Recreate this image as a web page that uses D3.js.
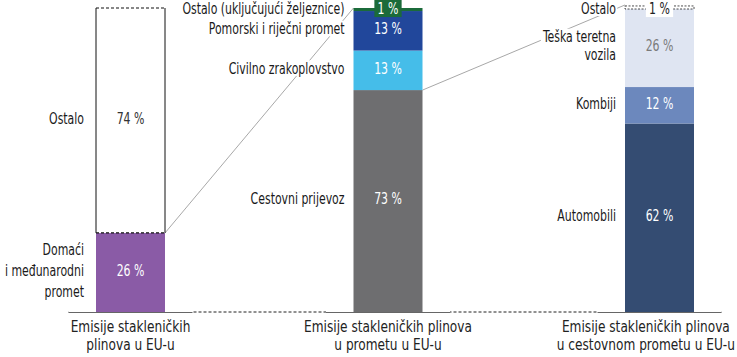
<!DOCTYPE html>
<html><head><meta charset="utf-8">
<script src="https://cdn.jsdelivr.net/npm/d3@7"></script>
<style>
body{margin:0;background:#fff}
svg text{font-family:"DejaVu Sans Condensed","DejaVu Sans",sans-serif;}
</style>
</head><body><svg id="c" width="737" height="357"></svg>
<script>
// ---- data ----
const categories = ["Emisije stakleničkih|plinova u EU-u", "Emisije stakleničkih plinova|u prometu u EU-u", "Emisije stakleničkih plinova|u cestovnom prometu u EU-u"];
const bar1Labels = ["Domaći|i međunarodni|promet", "Ostalo"];
const bar1Values = [26, 74];
const bar2Labels = ["Cestovni prijevoz", "Civilno zrakoplovstvo", "Pomorski i riječni promet", "Ostalo (uključujući željeznice)"];
const bar2Values = [73, 13, 13, 1];
const bar3Labels = ["Automobili", "Kombiji", "Teška teretna|vozila", "Ostalo"];
const bar3Values = [62, 12, 26, 1];
const yTicks = [0, 100];

// ---- styles ----
const bar1Colors = ["#8a5ba6", "#ffffff"];
const bar2Colors = ["#6e6e70", "#45bde9", "#21479b", "#1b6b3a"];
const bar3Colors = ["#344c72", "#6c88bd", "#dfe5f2", "#ffffff"];
const bar1TextColors = ["#ffffff", "#333333"];
const bar2TextColors = ["#ffffff", "#ffffff", "#ffffff", "#ffffff"];
const bar3TextColors = ["#ffffff", "#ffffff", "#7a7a7a", "#222222"];

const svg = d3.select("#c");
const x = d3.scaleOrdinal().domain(categories).range([130.5, 388, 659.5]);
const y = d3.scaleLinear().domain(yTicks).range([312, 8]);
const bw = 69;
const FS = 15;
const SX = 0.81;

const bars = [
  {cat: categories[0], labels: bar1Labels, values: bar1Values, colors: bar1Colors, tcol: bar1TextColors},
  {cat: categories[1], labels: bar2Labels, values: bar2Values, colors: bar2Colors, tcol: bar2TextColors},
  {cat: categories[2], labels: bar3Labels, values: bar3Values, colors: bar3Colors, tcol: bar3TextColors}
];
bars.forEach(b => {
  let acc = 0;
  b.segs = b.values.map((v, i) => {
    const s = {v, y0: acc, y1: acc + v, label: b.labels[i], color: b.colors[i], tcol: b.tcol[i], i};
    acc += v; return s;
  });
});

const gLines = svg.append("g");
const gBars = svg.append("g");
const gLabels = svg.append("g");

// axis baseline: dashed overall, solid under bars
gLines.append("line").attr("x1", x(categories[0]) - 62).attr("x2", x(categories[2]) + 62)
  .attr("y1", y(0)).attr("y2", y(0)).attr("stroke", "#222").attr("stroke-width", 1).attr("stroke-dasharray", "3,2");
categories.forEach(c => {
  gLines.append("line").attr("x1", x(c) - 62).attr("x2", x(c) + 62).attr("y1", y(0)).attr("y2", y(0))
    .attr("stroke", "#fff").attr("stroke-width", 2);
  gLines.append("line").attr("x1", x(c) - 62).attr("x2", x(c) + 62).attr("y1", y(0) + 0.5).attr("y2", y(0) + 0.5)
    .attr("stroke", "#666").attr("stroke-width", 1);
});

// connector lines
const b1 = bars[0], b2 = bars[1], b3 = bars[2];
gLines.append("line")
  .attr("x1", x(b1.cat) + bw / 2).attr("y1", y(b1.segs[0].y1))
  .attr("x2", x(b2.cat) - bw / 2).attr("y2", y(d3.sum(b2.values)))
  .attr("stroke", "#a8a8a8").attr("stroke-width", 1);
gLines.append("line")
  .attr("x1", x(b2.cat) + bw / 2).attr("y1", y(b2.segs[0].y1))
  .attr("x2", x(b3.cat) - bw / 2).attr("y2", y(d3.sum(b3.values)))
  .attr("stroke", "#a8a8a8").attr("stroke-width", 1);

// bars
bars.forEach(b => {
  const cx = x(b.cat);
  b.segs.forEach(s => {
    const top = y(s.y1), bot = y(s.y0);
    gBars.append("rect").attr("x", cx - bw / 2).attr("width", bw)
      .attr("y", top).attr("height", bot - top).attr("fill", s.color);
  });
});

// Left "Ostalo" outline: solid sides, dashed top & bottom
{
  const s = b1.segs[1], cx = x(b1.cat);
  const top = y(s.y1), bot = y(s.y0);
  [cx - bw / 2, cx + bw / 2].forEach(a =>
    gBars.append("line").attr("x1", a).attr("x2", a).attr("y1", top).attr("y2", bot).attr("stroke", "#111").attr("stroke-width", 1));
  [top, bot].forEach(yy =>
    gBars.append("line").attr("x1", cx - bw / 2).attr("x2", cx + bw / 2).attr("y1", yy).attr("y2", yy)
      .attr("stroke", "#111").attr("stroke-width", 1.2).attr("stroke-dasharray", "3,2"));
}
// Right "Ostalo" 1% dashed box
{
  const s = b3.segs[3], cx = x(b3.cat);
  gBars.append("rect").attr("x", cx - bw / 2).attr("width", bw)
    .attr("y", y(s.y1) + 1).attr("height", Math.max(3, y(s.y0) - y(s.y1)))
    .attr("fill", "#fff").attr("stroke", "#222").attr("stroke-width", 0.8).attr("stroke-dasharray", "2,1.5");
}

function multiText(parent, lines, xx, yc, anchor, color, lh, fs, sx) {
  const g = parent.append("g").attr("transform", `translate(${xx},0) scale(${sx},1)`);
  const n = lines.length;
  const t = g.append("text").attr("text-anchor", anchor).attr("fill", color).attr("font-size", fs);
  lines.forEach((ln, k) => {
    t.append("tspan").attr("x", 0).attr("y", yc + (k - (n - 1) / 2) * lh).attr("dy", "0.35em").text(ln);
  });
  return t;
}
function withBg(t, fill, padX, padY) {
  const bb = t.node().getBBox();
  d3.select(t.node().parentNode).insert("rect", () => t.node())
    .attr("x", bb.x - padX).attr("y", bb.y - padY).attr("width", bb.width + 2 * padX).attr("height", bb.height + 2 * padY)
    .attr("fill", fill);
}

// category labels (kept inside the frame)
const CSX = 0.82;
categories.forEach(c => {
  const g = gLabels.append("g");
  const t = g.append("text").attr("text-anchor", "middle").attr("fill", "#222").attr("font-size", 16.5);
  c.split("|").forEach((ln, k) => t.append("tspan").attr("x", 0).attr("y", 332 + k * 18.5).text(ln));
  const half = t.node().getBBox().width * CSX / 2;
  const cx = Math.min(x(c), 735 - half);
  g.attr("transform", `translate(${cx},0) scale(${CSX},1)`);
});

// segment labels & values
bars.forEach((b, bi) => {
  const cx = x(b.cat);
  const lh = bi === 0 ? 21 : 17.5;
  b.segs.forEach(s => {
    let yc = (y(s.y0) + y(s.y1)) / 2 - 2;
    if (s.v <= 1) yc = 8.5;
    const lines = s.label.split("|");
    const t = multiText(gLabels, lines, cx - bw / 2 - (bi === 0 ? 12 : 9), yc, "end", "#1a1a1a", lh, FS, SX);
    withBg(t, "#fff", 1.5, -1);
    const tv = multiText(gLabels, [s.v + " %"], cx, yc, "middle", s.tcol, lh, FS, SX);
    if (s.v <= 1) withBg(tv, s.color, 4, 0);
  });
});
</script>
</body></html>
